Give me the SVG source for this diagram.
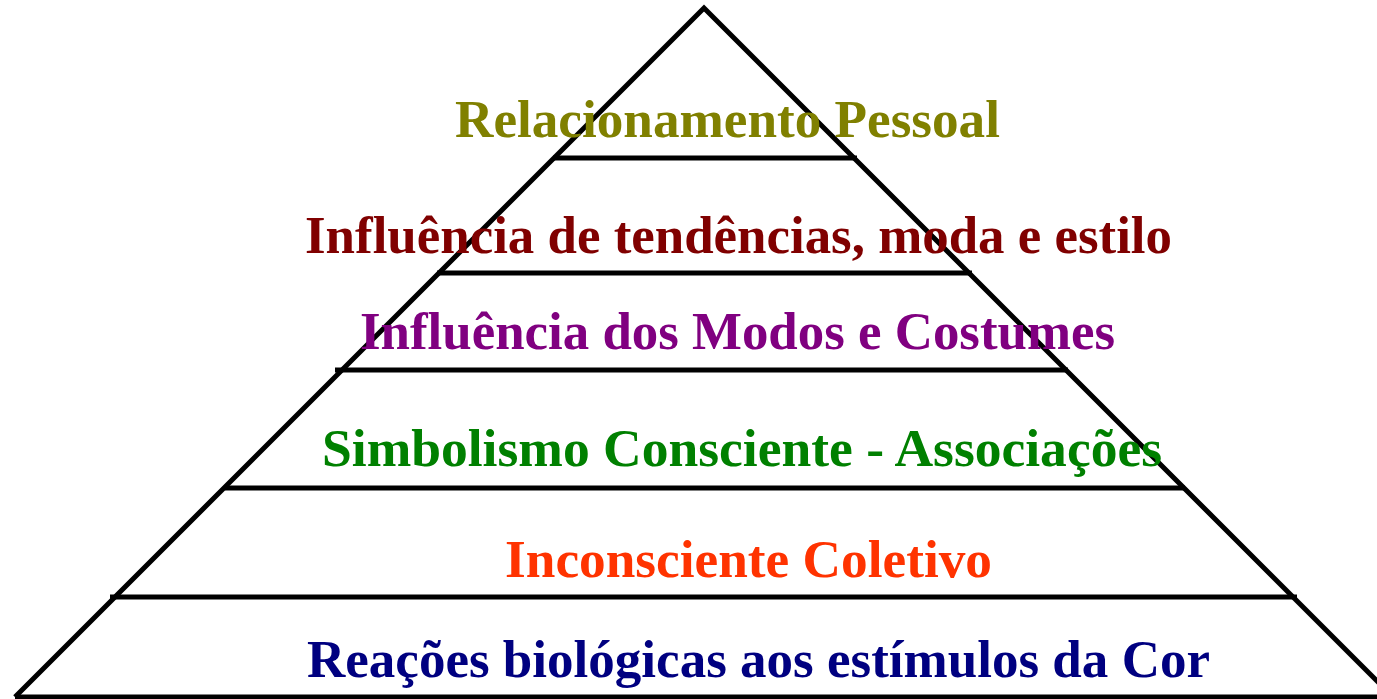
<svg xmlns="http://www.w3.org/2000/svg" width="1377" height="699" viewBox="0 0 1377 699">
<style>
.ln{stroke:#000;stroke-width:5;fill:none;stroke-linecap:butt}
.t{font-family:"Liberation Serif","Times New Roman",serif;font-weight:bold;font-size:52px}
</style>
<rect width="1377" height="699" fill="#fff"/>
<g id="connectors">
<polyline class="ln" points="15,697 704,8 1393,697"/>
<line class="ln" x1="15" y1="697" x2="1377" y2="697"/>
<line class="ln" x1="553" y1="158" x2="857" y2="158"/>
<line class="ln" x1="437" y1="273" x2="972" y2="273"/>
<line class="ln" x1="335" y1="370" x2="1068" y2="370"/>
<line class="ln" x1="225" y1="488" x2="1185" y2="488"/>
<line class="ln" x1="110" y1="597" x2="1297" y2="597"/>
</g>
<g id="level6"><text class="t" x="455" y="137" fill="#808000" textLength="545" lengthAdjust="spacingAndGlyphs">Relacionamento Pessoal</text></g>
<g id="level5"><text class="t" x="305" y="253" fill="#800000" textLength="867" lengthAdjust="spacingAndGlyphs">Influência de tendências, moda e estilo</text></g>
<g id="level4"><text class="t" x="360" y="349" fill="#800080" textLength="755" lengthAdjust="spacingAndGlyphs">Influência dos Modos e Costumes</text></g>
<g id="level3"><text class="t" x="322" y="466" fill="#008000" textLength="840" lengthAdjust="spacingAndGlyphs">Simbolismo Consciente - Associações</text></g>
<g id="level2"><text class="t" x="505" y="577" fill="#FF3300" textLength="487" lengthAdjust="spacingAndGlyphs">Inconsciente Coletivo</text></g>
<g id="level1"><text class="t" x="307" y="677" fill="#000080" textLength="903" lengthAdjust="spacingAndGlyphs">Reações biológicas aos estímulos da Cor</text></g>
</svg>
